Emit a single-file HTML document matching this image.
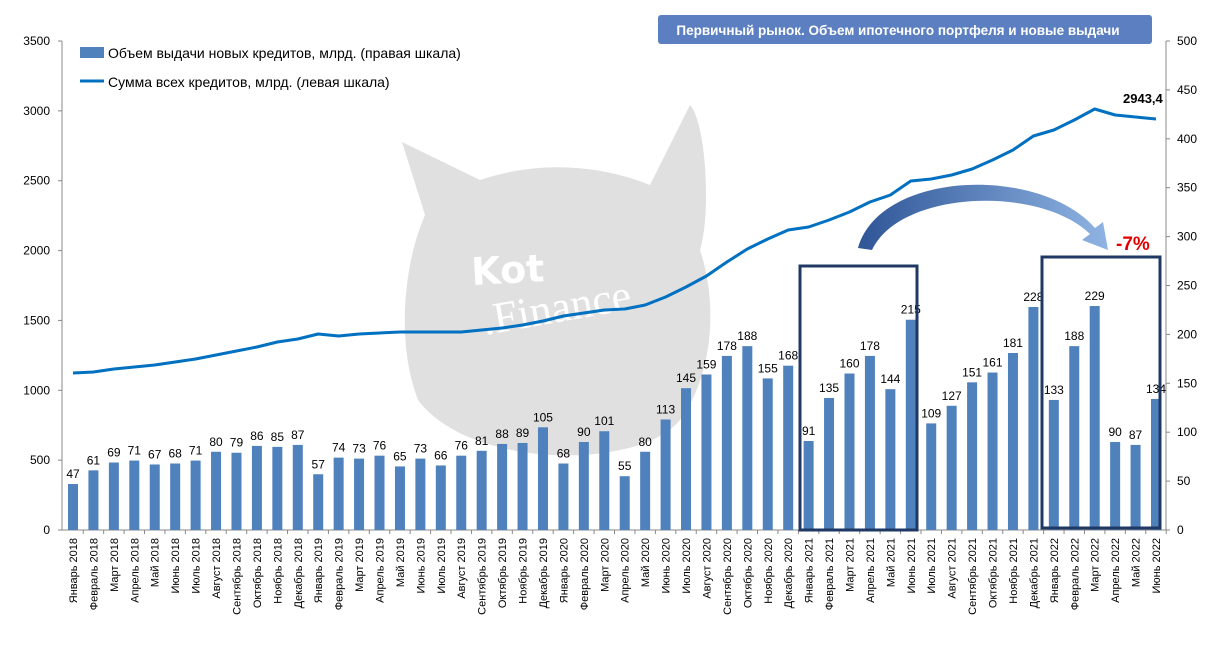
<!DOCTYPE html>
<html><head><meta charset="utf-8"><style>
body{margin:0;background:#fff;}
svg{display:block;font-family:"Liberation Sans","DejaVu Sans",sans-serif;}
</style></head><body>
<svg id="s" width="1228" height="654" viewBox="0 0 1228 654" xmlns="http://www.w3.org/2000/svg">
<defs><linearGradient id="ag" x1="0" y1="0" x2="1" y2="0"><stop offset="0" stop-color="#2f5597"/><stop offset="1" stop-color="#8fb4e3"/></linearGradient></defs>
<path d="M418,400 C395,340 405,260 425,215 L402,142 L480,180 C540,160 600,165 650,185 L690,105 C705,120 712,210 700,250 C720,310 710,380 680,420 C640,470 470,470 418,400 Z" fill="#e0e0e0"/>
<text x="472" y="285" font-size="38" font-weight="bold" fill="#fff" font-family="DejaVu Sans,sans-serif" transform="rotate(-3 472 285)">Kot</text>
<text x="485" y="335" font-size="44" fill="#fff" font-family="Liberation Serif,serif" transform="rotate(-10 485 335)">.Finance</text>
<g id="g"></g>
</svg>
<script>
const NS="http://www.w3.org/2000/svg",g=document.getElementById('g');
function el(t,a,txt){const e=document.createElementNS(NS,t);for(const k in a)e.setAttribute(k,a[k]);if(txt!=null)e.textContent=txt;g.appendChild(e);return e;}
const y0=530,ppl=489/3500,ppr=489/500;
const bars=[47,61,69,71,67,68,71,80,79,86,85,87,57,74,73,76,65,73,66,76,81,88,89,105,68,90,101,55,80,113,145,159,178,188,155,168,91,135,160,178,144,215,109,127,151,161,181,228,133,188,229,90,87,134];
const ly=[373,372,369,367,365,362,359,355,351,347,342,339,334,336,334,333,332,332,332,332,330,328,325,321,316,313,310,309,305,297,287,276,262,249,239,230,227,220,212,202,195,181,179,175,169,160,150,136,130,120,109,115,117,119];
const mon=["Январь","Февраль","Март","Апрель","Май","Июнь","Июль","Август","Сентябрь","Октябрь","Ноябрь","Декабрь"];
const x0=73,dx=(1156-73)/53;
el('line',{x1:62,y1:41,x2:62,y2:530,stroke:'#888'});
el('line',{x1:1166,y1:41,x2:1166,y2:530,stroke:'#888'});
el('line',{x1:62,y1:530,x2:1166,y2:530,stroke:'#888'});
for(let v=0;v<=3500;v+=500){const y=y0-v*ppl;el('text',{x:50,y:y+4,'font-size':12,'text-anchor':'end'},v);el('line',{x1:58,y1:y,x2:62,y2:y,stroke:'#888'});}
for(let v=0;v<=500;v+=50){const y=y0-v*ppr;el('text',{x:1177,y:y+4,'font-size':12},v);el('line',{x1:1166,y1:y,x2:1170,y2:y,stroke:'#888'});}
bars.forEach((b,i)=>{const x=x0+i*dx,h=b*ppr;
el('rect',{x:x-5,y:y0-h,width:10,height:h,fill:'#4f81bd'});
el('text',{x:x,y:y0-h-6,'font-size':12,'text-anchor':'middle'},b);
const lab=mon[i%12]+" "+(2018+Math.floor(i/12));
el('text',{x:x+4,y:538,'font-size':11,'text-anchor':'end',transform:`rotate(-90 ${x+4} 538)`},lab);
el('line',{x1:x+dx/2,y1:530,x2:x+dx/2,y2:534,stroke:'#888'});
});
el('polyline',{points:ly.map((y,i)=>(x0+i*dx)+','+y).join(' '),fill:'none',stroke:'#0070c0','stroke-width':3,'stroke-linejoin':'round'});
el('rect',{x:80,y:47,width:24,height:11,fill:'#4f81bd'});
el('text',{x:108,y:58,'font-size':14},'Объем выдачи новых кредитов, млрд. (правая шкала)');
el('line',{x1:80,y1:81,x2:104,y2:81,stroke:'#0070c0','stroke-width':3});
el('text',{x:108,y:87,'font-size':14},'Сумма всех кредитов, млрд. (левая шкала)');
el('rect',{x:658,y:15,width:494,height:29,rx:3,fill:'#5b7fc0'});
el('text',{x:898,y:35,'font-size':13.5,'font-weight':'bold',fill:'#fff','text-anchor':'middle'},'Первичный рынок. Объем ипотечного портфеля и новые выдачи');
el('text',{x:1123,y:103,'font-size':13,'font-weight':'bold'},'2943,4');
el('rect',{x:800,y:266,width:117,height:264,fill:'none',stroke:'#1f3864','stroke-width':3});
el('rect',{x:1042,y:257,width:118,height:271,fill:'none',stroke:'#1f3864','stroke-width':3});
el('path',{d:'M858,248 C880,170 1040,165 1095,228 L1103,222 L1108,250 L1082,240 L1090,234 C1040,185 900,190 872,250 Z',fill:'url(#ag)'});
el('text',{x:1116,y:250,'font-size':19,'font-weight':'bold',fill:'#e00000'},'-7%');
</script>
</body></html>
